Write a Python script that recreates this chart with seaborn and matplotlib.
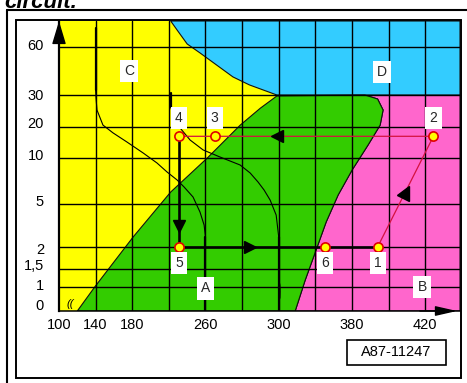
import numpy as np
import matplotlib
matplotlib.use("Agg")
import matplotlib.pyplot as plt
from matplotlib.markers import MarkerStyle
from matplotlib.patches import Polygon, Rectangle
from matplotlib.lines import Line2D
from matplotlib.transforms import ScaledTranslation
import seaborn as sns

# ---- axis scales: tick value -> slot along the axis (piecewise linear) ----
X_KNOTS = [100, 140, 180, 260, 300, 380, 420, 460]
X_SLOTS = [0, 1, 2, 4, 6, 8, 10, 11]
Y_KNOTS = [0, 1, 1.5, 2, 5, 10, 20, 30, 60, 90]
Y_SLOTS = [0, 24, 42, 64, 107, 153, 184, 216, 264, 290]

x_ticks = [100, 140, 180, 260, 300, 380, 420]
x_tick_labels = ["100", "140", "180", "260", "300", "380", "420"]
x_grid = [140, 180, 220, 260, 280, 300, 340, 380, 400, 420]
y_ticks = [0, 1, 1.5, 2, 5, 10, 20, 30, 60]
y_tick_labels = ["0", "1", "1,5", "2", "5", "10", "20", "30", "60"]
y_grid = [1, 1.5, 2, 5, 10, 20, 30, 60]

# ---- regions (enthalpy h, pressure p) ----
blue_h = [222, 229, 240, 254, 266, 275, 284, 299, 458, 458]
blue_p = [90, 79.6, 63.5, 56.3, 48.8, 41.3, 36.3, 30, 30, 90]

green_left_h = [120, 139, 181, 222, 261, 279, 290, 299]
green_left_p = [0, 1, 2.7, 6.3, 10, 20.6, 25.9, 29.7]
green_right_h = [387, 394, 397, 395.4, 388.8, 380.1, 364.9, 351.8, 342, 328.9, 318]
green_right_p = [30, 28.75, 25.3, 20.6, 14.2, 8.7, 5.98, 3.74, 2, 1.19, 0]

# ---- isotherms ----
iso1_h = [140, 140.4, 141.5, 148, 159, 174, 192, 207, 218, 229, 236.6, 246.4, 254, 258.5, 260]
iso1_p = [33.1, 29.1, 25.3, 20.6, 18.1, 15.2, 11.6, 9.46, 8.48, 7.61, 6.85, 5.76, 4.44, 3.53, 2.7]
iso1_top_p = [81.9, 33.1]
iso1_bottom_p = [2.7, 0]

iso2_h = [222, 225.7, 232.2, 243.2, 257.4, 268, 278.9, 284.4, 288.7, 292, 295.3, 298.6, 300]
iso2_p = [26.25, 22.8, 19.7, 15.8, 12.6, 10.3, 9.24, 8.37, 7.39, 6.52, 5.43, 4.23, 2.7]
iso2_top_p = [31.25, 26.25]
iso2_bottom_p = [2.7, 0]
loop_h = [300.6, 301.3, 301.5, 301.3, 300.6, 300.4, 300.6]
loop_p = [1.14, 1.05, 0.8, 0.55, 0.46, 0.8, 1.14]

# ---- cycle states 1..6 ----
state_names = ["1", "2", "3", "4", "5", "6"]
state_h = [394, 429, 265, 231, 231, 351]
state_p = [2, 17, 17, 17, 2, 2]

# ---- region names ----
region_names = ["A", "B", "C", "D"]
region_h = [260, 418.4, 176.5, 396.5]
region_p = [0.94, 1.0, 45, 44.4]

# axis break mark next to the origin
break_h, break_p = 112, 0.3

W, H = 467, 383
sns.set_theme(style="white")
plt.rcParams["font.family"] = ["Liberation Sans", "DejaVu Sans"]

fig = plt.figure(figsize=(W / 100, H / 100), dpi=100)
fig.patch.set_facecolor("white")
ax = fig.add_axes([59 / W, 1 - 311 / H, (460 - 59) / W, (311 - 21) / H])
ax.set_facecolor("#FFFF00")

# coloured zones
pink_h = green_right_h + [458, 458]
pink_p = green_right_p + [0, 30]
green_h = green_left_h + green_right_h
green_p = green_left_p + green_right_p
for hh, pp, col in [(pink_h, pink_p, "#FF66CC"), (blue_h, blue_p, "#33CCFF"),
                    (green_h, green_p, "#33CC00")]:
    ax.add_patch(Polygon(np.column_stack([hh, pp]), closed=True, facecolor=col,
                         edgecolor="#111111", lw=0.8, zorder=1))

# grid
for gx in x_grid:
    ax.axvline(gx, color="black", lw=1.0, zorder=2)
for gy in y_grid:
    ax.axhline(gy, color="black", lw=1.0, zorder=2)

# isotherms
thin = dict(color="black", lw=0.8, sort=False, estimator=None, ax=ax, zorder=3)
sns.lineplot(x=iso1_h, y=iso1_p, **thin)
sns.lineplot(x=iso2_h, y=iso2_p, **thin)
sns.lineplot(x=loop_h, y=loop_p, **thin)
thick = dict(color="black", lw=1.6, sort=False, estimator=None, ax=ax, zorder=3)
sns.lineplot(x=[iso1_h[0]] * 2, y=iso1_top_p, **thick)
sns.lineplot(x=[iso1_h[-1]] * 2, y=iso1_bottom_p, **thick)
sns.lineplot(x=[iso2_h[0]] * 2, y=iso2_top_p, **thick)
sns.lineplot(x=[iso2_h[-1]] * 2, y=iso2_bottom_p, **thick)

# cycle: 1 -> 2 -> 3 -> 4 (thin red), 4 -> 5 -> 6 -> 1 (thick black)
i1, i2, i3, i4, i5, i6 = range(6)
red = "#D4123F"
sns.lineplot(x=[state_h[i] for i in (i1, i2, i3, i4)],
             y=[state_p[i] for i in (i1, i2, i3, i4)],
             color=red, lw=0.9, sort=False, estimator=None, ax=ax, zorder=4)
sns.lineplot(x=[state_h[i] for i in (i4, i5, i6, i1)],
             y=[state_p[i] for i in (i4, i5, i6, i1)],
             color="black", lw=1.9, sort=False, estimator=None, ax=ax, zorder=4)

ax.set_xscale("function", functions=(lambda v: np.interp(v, X_KNOTS, X_SLOTS),
                                     lambda s: np.interp(s, X_SLOTS, X_KNOTS)))
ax.set_yscale("function", functions=(lambda v: np.interp(v, Y_KNOTS, Y_SLOTS),
                                     lambda s: np.interp(s, Y_SLOTS, Y_KNOTS)))
ax.set_xlim(100, 458)
ax.set_ylim(0, 90)
ax.set_xticks(x_ticks, x_tick_labels)
ax.set_yticks(y_ticks, y_tick_labels)
ax.minorticks_off()
ax.set(xlabel="", ylabel="")
ax.tick_params(axis="both", length=0, labelsize=10.5, colors="black")
ax.tick_params(axis="y", pad=10.8)
ax.tick_params(axis="x", pad=5)
for side in ("top", "right"):
    ax.spines[side].set_visible(False)
ax.spines["left"].set_linewidth(1.6)
ax.spines["bottom"].set_linewidth(1.1)
ax.spines["left"].set_color("black")
ax.spines["bottom"].set_color("black")
ax.spines["left"].set_zorder(6)
ax.spines["bottom"].set_zorder(6)

# nudge y labels slightly above their grid lines
y_label_lift = [6, 3, 4, -1, 3, 4, 4, 0, 2]
for lab, dy in zip(ax.get_yticklabels(), y_label_lift):
    lab.set_transform(lab.get_transform() + ScaledTranslation(0, dy / 100, fig.dpi_scale_trans))

# axis arrows
ax.annotate("", xy=(0, 1.0), xycoords="axes fraction", xytext=(0, 0.6),
            arrowprops=dict(arrowstyle="-|>,head_length=1.2,head_width=0.36",
                            color="black", lw=1.0, shrinkA=0, shrinkB=0), zorder=7)
ax.annotate("", xy=(0.9925, 0), xycoords="axes fraction", xytext=(0.9, 0),
            arrowprops=dict(arrowstyle="-|>,head_length=1.1,head_width=0.25",
                            color="black", lw=1.0, shrinkA=0, shrinkB=0), zorder=7)
ax.text(break_h, break_p, "((", fontsize=8, style="italic", ha="center",
        va="center", color="black", zorder=7)


def arrowhead(p0, p1, frac, size=9.3):
    a = ax.transData.transform(p0)
    b = ax.transData.transform(p1)
    m = a + frac * (b - a)
    ang = np.degrees(np.arctan2(b[1] - a[1], b[0] - a[0]))
    x, y = ax.transData.inverted().transform(m)
    ax.plot([x], [y], ls="none", marker=MarkerStyle(">").rotated(deg=ang),
            ms=size, color="black", mec="black", zorder=5)


pt = lambda i: (state_h[i], state_p[i])
arrowhead(pt(i1), pt(i2), 0.5)
arrowhead(pt(i2), pt(i4), 0.616)
arrowhead(pt(i4), pt(i5), 0.81)
arrowhead(pt(i5), pt(i1), 0.36)

# state markers
sns.scatterplot(x=state_h, y=state_p, marker="o", s=44, color="#FFFF00",
                edgecolor="#E00000", linewidth=1.2, ax=ax, zorder=6, legend=False)
ax.set(xlabel="", ylabel="")

box = dict(boxstyle="square,pad=0.3", facecolor="white", edgecolor="none")
for name, h, p in zip(state_names, state_h, state_p):
    dy = 13 if p > 5 else -11.5
    ax.annotate(name, (h, p), xytext=(0, dy), textcoords="offset points",
                ha="center", va="center", fontsize=10, bbox=box, zorder=7)
for name, h, p in zip(region_names, region_h, region_p):
    ax.text(h, p, name, ha="center", va="center", fontsize=10, bbox=box, zorder=7)

# frames around the drawing
fig.add_artist(Rectangle((16 / W, 1 - 378 / H), (461 - 16) / W, (378 - 20) / H,
                         transform=fig.transFigure, fill=False, lw=1.4,
                         edgecolor="black"))
fig.add_artist(Line2D([7 / W, 7 / W], [0, 1 - 10 / H], transform=fig.transFigure,
                      color="black", lw=1.5))
fig.add_artist(Line2D([7 / W, 1], [1 - 10 / H, 1 - 10 / H], transform=fig.transFigure,
                      color="black", lw=1.5))

# drawing number
fig.add_artist(Rectangle((347 / W, 1 - 365 / H), 99 / W, 25 / H,
                         transform=fig.transFigure, facecolor="white", lw=1.2,
                         edgecolor="black"))
fig.text(396.5 / W, 1 - 352.5 / H, "A87-11247", ha="center", va="center",
         fontsize=10.5, color="black")

# caption tail at the top edge
fig.text(4 / W, 1 - 8 / H, "circuit.", ha="left", va="baseline", fontsize=16,
         fontweight="bold", style="italic", color="black")

fig.savefig("out.png", dpi=100)
